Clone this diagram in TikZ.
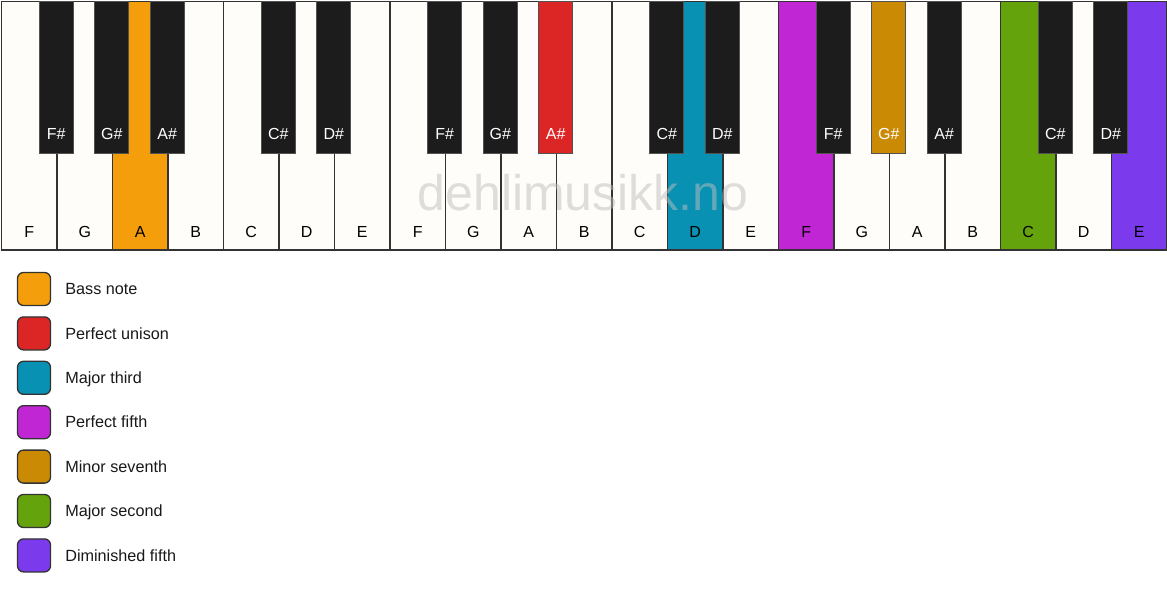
\documentclass[tikz,border=0pt]{standalone}
\usepackage{fontspec}
\setmainfont{Liberation Sans}
\usetikzlibrary{positioning}

\definecolor{keywhite}{RGB}{255,253,249}
\definecolor{keyblack}{RGB}{28,28,28}
\definecolor{keyline}{RGB}{51,51,51}
\definecolor{bassnote}{HTML}{F59E0B}
\definecolor{unison}{HTML}{DC2626}
\definecolor{majthird}{HTML}{0891B2}
\definecolor{perffifth}{HTML}{C026D3}
\definecolor{minseventh}{HTML}{CA8A04}
\definecolor{majsecond}{HTML}{65A30D}
\definecolor{dimfifth}{HTML}{7C3AED}
\definecolor{watermark}{RGB}{190,190,190}

\begin{document}
\begin{tikzpicture}[x=1pt,y=-1pt]
    \tikzstyle{whitekey}=[rectangle,draw=keyline,line width=1.5pt,anchor=north west,minimum width=55.5pt,minimum height=248.5pt,inner sep=0pt]
    \tikzstyle{blackkey}=[rectangle,draw=keyline!85,line width=1pt,anchor=north,minimum width=34pt,minimum height=152pt,inner sep=0pt]
    \tikzstyle{keylabel}=[font=\fontsize{16}{19}\selectfont,inner sep=0pt,text height=11.5pt,text depth=0pt]
    \tikzstyle{legendbox}=[rectangle,rounded corners=6pt,draw=keyline,line width=1.3pt,minimum size=33pt,inner sep=0pt]
    \tikzstyle{legendtext}=[font=\fontsize{16.2}{19}\selectfont,text=black!90,inner sep=0pt,text height=11.5pt,text depth=0pt]
    \useasboundingbox (0,0) rectangle (1167,594);
    \fill[white] (0,0) rectangle (1167,594);

    % white keys
    \foreach \num/\name/\col in {0/F/keywhite, 1/G/keywhite, 2/A/bassnote, 3/B/keywhite,
            4/C/keywhite, 5/D/keywhite, 6/E/keywhite, 7/F/keywhite, 8/G/keywhite,
            9/A/keywhite, 10/B/keywhite, 11/C/keywhite, 12/D/majthird, 13/E/keywhite,
            14/F/perffifth, 15/G/keywhite, 16/A/keywhite, 17/B/keywhite,
            18/C/majsecond, 19/D/keywhite, 20/E/dimfifth}
        {
        \node[whitekey,fill=\col] (W-\num) at ({0.75+\num*55.5},0.75) {};
        \node[keylabel] (WL-\num) at ([yshift=19.5pt]W-\num.south) {\name};
        }

    \node[font=\fontsize{50}{58}\selectfont,text=watermark,text opacity=0.5] (mark) at (583,193) {dehlimusikk.no};

    % black keys sit on the boundary after white key \num
    \foreach \num/\name/\col in {0/F\#/keyblack, 1/G\#/keyblack, 2/A\#/keyblack,
            4/C\#/keyblack, 5/D\#/keyblack, 7/F\#/keyblack, 8/G\#/keyblack,
            9/A\#/unison, 11/C\#/keyblack, 12/D\#/keyblack, 14/F\#/keyblack,
            15/G\#/minseventh, 16/A\#/keyblack, 18/C\#/keyblack, 19/D\#/keyblack}
        {
        \node[blackkey,fill=\col] (B-\num) at ({0.75+(\num+1)*55.5},1) {};
        \node[keylabel,text=white] (BL-\num) at ([yshift=20pt]B-\num.south) {\name};
        }

    % legend
    \foreach \num/\col/\desc in {0/bassnote/Bass note, 1/unison/Perfect unison,
            2/majthird/Major third, 3/perffifth/Perfect fifth,
            4/minseventh/Minor seventh, 5/majsecond/Major second,
            6/dimfifth/Diminished fifth}
        {
        \node[legendbox,fill=\col] (L-\num) at (34,{289+\num*44.4}) {};
        \node[legendtext,right=14pt of L-\num] (LT-\num) {\desc};
        }
\end{tikzpicture}
\end{document}
